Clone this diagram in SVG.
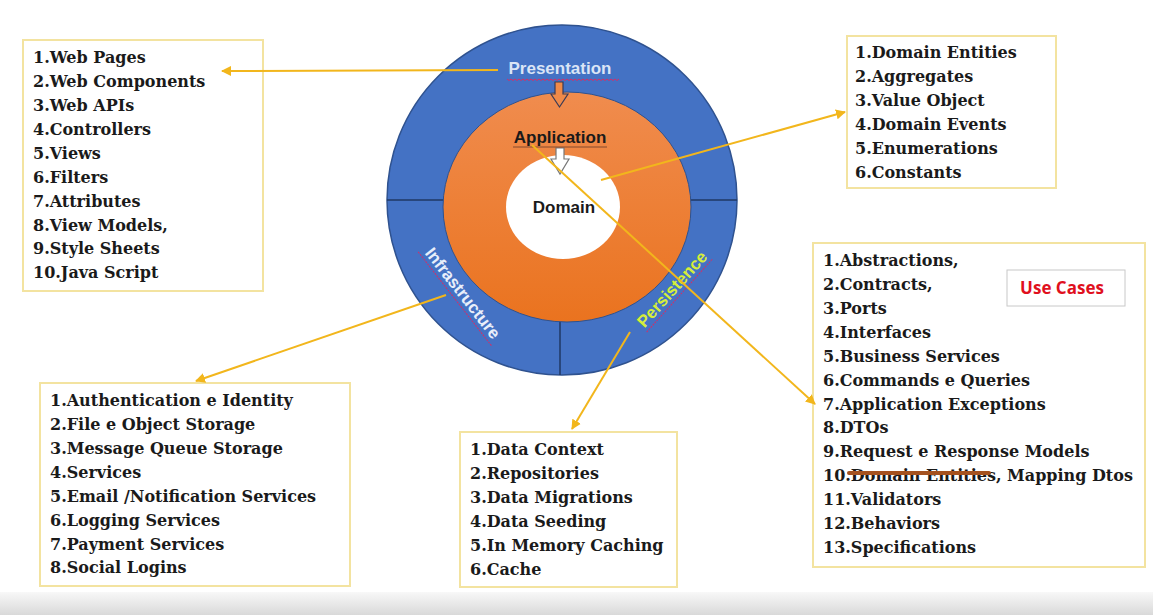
<svg xmlns="http://www.w3.org/2000/svg" width="1153" height="615" viewBox="0 0 1153 615">
<defs>
<style>
.box{fill:#fff;stroke:#f3e3a0;stroke-width:2}
.lst{font-family:"DejaVu Serif",serif;font-weight:bold;font-size:16px;fill:#1a1a1a}
.con{stroke:#f2b61c;stroke-width:2;fill:none}
.lbl{font-family:"Liberation Sans",Arial,sans-serif;font-weight:bold;font-size:17px}
.wavy{fill:none;stroke:#d0306a;stroke-width:1}
</style>
<marker id="ah" viewBox="0 0 10 10" refX="9" refY="5" markerWidth="5" markerHeight="5" orient="auto" markerUnits="strokeWidth">
<path d="M0,0 L10,5 L0,10 z" fill="#f2b61c"/>
</marker>
<linearGradient id="og" x1="0" y1="0" x2="0" y2="1">
<stop offset="0" stop-color="#f08c4e"/>
<stop offset="1" stop-color="#ea731f"/>
</linearGradient>
<linearGradient id="bg" x1="0" y1="0" x2="0" y2="1">
<stop offset="0" stop-color="#f8f8f8"/>
<stop offset="1" stop-color="#d9d9d9"/>
</linearGradient>
</defs>
<rect x="0" y="0" width="1153" height="615" fill="#fff"/>
<rect x="0" y="592" width="1153" height="23" fill="url(#bg)"/>

<g id="onion">
<circle cx="562" cy="200" r="175" fill="#4472c4" stroke="#2f528f" stroke-width="1.5"/>
<line x1="387" y1="200" x2="445" y2="200" stroke="#1f3864" stroke-width="1.5"/>
<line x1="690" y1="200" x2="737" y2="200" stroke="#1f3864" stroke-width="1.5"/>
<line x1="560" y1="320" x2="560" y2="375" stroke="#1f3864" stroke-width="1.5"/>
<ellipse cx="567" cy="207" rx="124" ry="115" fill="url(#og)" stroke="#2f528f" stroke-width="1"/>
<ellipse cx="563" cy="207" rx="57" ry="52" fill="#fff"/>
<path d="M555,82 H563 V94 H568 L559.5,107 L551,94 H555 Z" fill="#ef8a49" stroke="#3b3b55" stroke-width="1.2"/>
<path d="M556,148 H564 V159 H569 L560,174 L551,159 H556 Z" fill="#fff" stroke="#777" stroke-width="1.2"/>
<text class="lbl" x="560" y="74" text-anchor="middle" fill="#dbe5f6">Presentation</text>
<path class="wavy" d="M507,79 l2,1.5 l2,-1.5 l2,1.5 l2,-1.5 l2,1.5 l2,-1.5 l2,1.5 l2,-1.5 l2,1.5 l2,-1.5 l2,1.5 l2,-1.5 l2,1.5 l2,-1.5 l2,1.5 l2,-1.5 l2,1.5 l2,-1.5 l2,1.5 l2,-1.5 l2,1.5 l2,-1.5 l2,1.5 l2,-1.5 l2,1.5 l2,-1.5 l2,1.5 l2,-1.5 l2,1.5 l2,-1.5 l2,1.5 l2,-1.5 l2,1.5 l2,-1.5 l2,1.5 l2,-1.5 l2,1.5 l2,-1.5 l2,1.5 l2,-1.5 l2,1.5 l2,-1.5 l2,1.5 l2,-1.5 l2,1.5 l2,-1.5 l2,1.5 l2,-1.5 l2,1.5 l2,-1.5 l2,1.5 l2,-1.5 l2,1.5 l2,-1.5 l2,1.5 l2,-1.5"/>
<text class="lbl" x="560" y="143" text-anchor="middle" fill="#1a1a1a">Application</text>
<line x1="513" y1="147" x2="607" y2="147" stroke="#6b3a2a" stroke-width="0.8"/>
<text class="lbl" x="564" y="213" text-anchor="middle" fill="#1a1a1a">Domain</text>
<g transform="translate(463,293) rotate(52)">
<text class="lbl" x="0" y="6" text-anchor="middle" fill="#e8eefa">Infrastructure</text>
<line x1="-60" y1="10" x2="60" y2="10" stroke="#d0306a" stroke-width="1" stroke-dasharray="2,1"/>
</g>
<g transform="translate(672,289) rotate(-48)">
<text class="lbl" x="0" y="6" text-anchor="middle" fill="#d6ee3a">Persistence</text>
<line x1="-49" y1="10" x2="49" y2="10" stroke="#d0306a" stroke-width="1" stroke-dasharray="2,1"/>
</g>
</g>

<g id="presentation-box">
<rect class="box" x="23" y="40" width="240" height="251"/>
<text class="lst" x="33">
<tspan x="33" y="63">1.Web Pages</tspan>
<tspan x="33" y="87">2.Web Components</tspan>
<tspan x="33" y="111">3.Web APIs</tspan>
<tspan x="33" y="135">4.Controllers</tspan>
<tspan x="33" y="159">5.Views</tspan>
<tspan x="33" y="183">6.Filters</tspan>
<tspan x="33" y="207">7.Attributes</tspan>
<tspan x="33" y="231">8.View Models,</tspan>
<tspan x="33" y="254">9.Style Sheets</tspan>
<tspan x="33" y="278">10.Java Script</tspan>
</text>
</g>

<g id="domain-box">
<rect class="box" x="847" y="36" width="209" height="152"/>
<text class="lst">
<tspan x="855" y="58">1.Domain Entities</tspan>
<tspan x="855" y="82">2.Aggregates</tspan>
<tspan x="855" y="106">3.Value Object</tspan>
<tspan x="855" y="130">4.Domain Events</tspan>
<tspan x="855" y="154">5.Enumerations</tspan>
<tspan x="855" y="178">6.Constants</tspan>
</text>
</g>

<g id="application-box">
<rect class="box" x="813" y="243" width="332" height="324"/>
<text class="lst">
<tspan x="823" y="266">1.Abstractions,</tspan>
<tspan x="823" y="290">2.Contracts,</tspan>
<tspan x="823" y="314">3.Ports</tspan>
<tspan x="823" y="338">4.Interfaces</tspan>
<tspan x="823" y="362">5.Business Services</tspan>
<tspan x="823" y="386">6.Commands e Queries</tspan>
<tspan x="823" y="410">7.Application Exceptions</tspan>
<tspan x="823" y="433">8.DTOs</tspan>
<tspan x="823" y="457">9.Request e Response Models</tspan>
<tspan x="823" y="481">10.Domain Entities, Mapping Dtos</tspan>
<tspan x="823" y="505">11.Validators</tspan>
<tspan x="823" y="529">12.Behaviors</tspan>
<tspan x="823" y="553">13.Specifications</tspan>
</text>
<line x1="849" y1="473" x2="989" y2="473" stroke="#a5521f" stroke-width="4" stroke-linecap="round"/>
<g id="use-cases">
<rect x="1007" y="270" width="118" height="36" fill="#fff" stroke="#c8c8c8" stroke-width="1"/>
<text x="1062" y="294" text-anchor="middle" font-family="'Open Sans','Liberation Sans',sans-serif" font-weight="bold" font-size="17" fill="#e0101e">Use Cases</text>
</g>
</g>

<g id="infrastructure-box">
<rect class="box" x="40" y="383" width="310" height="203"/>
<text class="lst">
<tspan x="50" y="406">1.Authentication e Identity</tspan>
<tspan x="50" y="430">2.File e Object Storage</tspan>
<tspan x="50" y="454">3.Message Queue Storage</tspan>
<tspan x="50" y="478">4.Services</tspan>
<tspan x="50" y="502">5.Email /Notification Services</tspan>
<tspan x="50" y="526">6.Logging Services</tspan>
<tspan x="50" y="550">7.Payment Services</tspan>
<tspan x="50" y="573">8.Social Logins</tspan>
</text>
</g>

<g id="persistence-box">
<rect class="box" x="460" y="432" width="217" height="155"/>
<text class="lst">
<tspan x="470" y="455">1.Data Context</tspan>
<tspan x="470" y="479">2.Repositories</tspan>
<tspan x="470" y="503">3.Data Migrations</tspan>
<tspan x="470" y="527">4.Data Seeding</tspan>
<tspan x="470" y="551">5.In Memory Caching</tspan>
<tspan x="470" y="575">6.Cache</tspan>
</text>
</g>

<g id="connectors">
<line class="con" x1="498" y1="70" x2="222" y2="71" marker-end="url(#ah)"/>
<line class="con" x1="601" y1="180" x2="845" y2="112" marker-end="url(#ah)"/>
<line class="con" x1="532" y1="145" x2="815" y2="404" marker-end="url(#ah)"/>
<line class="con" x1="446" y1="295" x2="196" y2="381" marker-end="url(#ah)"/>
<line class="con" x1="630" y1="332" x2="572" y2="429" marker-end="url(#ah)"/>
</g>
</svg>
